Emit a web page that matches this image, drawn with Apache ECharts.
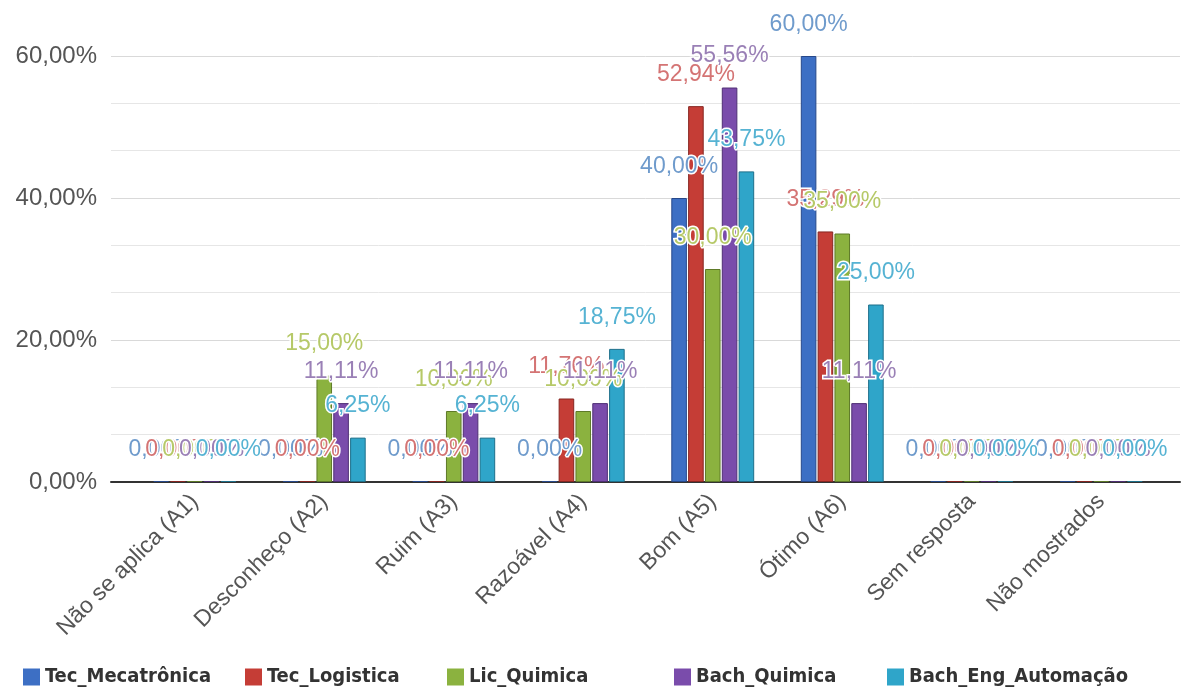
<!DOCTYPE html>
<html>
<head>
<meta charset="utf-8">
<script src="https://cdn.jsdelivr.net/npm/echarts@6/dist/echarts.min.js"></script>
<style>html,body{margin:0;padding:0;background:#fff;}#c{width:1183px;height:690px;}</style>
</head>
<body>
<div id="c"></div>
<script>
const categories = ['Não se aplica (A1)','Desconheço (A2)','Ruim (A3)','Razoável (A4)','Bom (A5)','Ótimo (A6)','Sem resposta','Não mostrados'];
const seriesNames = ['Tec_Mecatrônica','Tec_Logistica','Lic_Quimica','Bach_Quimica','Bach_Eng_Automação'];
const tecMecatronica = [0, 0, 0, 0, 40.00, 60.00, 0, 0];
const tecLogistica = [0, 0, 0, 11.76, 52.94, 35.29, 0, 0];
const licQuimica = [0, 15.00, 10.00, 10.00, 30.00, 35.00, 0, 0];
const bachQuimica = [0, 11.11, 11.11, 11.11, 55.56, 11.11, 0, 0];
const bachEngAutomacao = [0, 6.25, 6.25, 18.75, 43.75, 25.00, 0, 0];
const yTicks = [0, 20, 40, 60];

const barColors = ['#3d6fc4','#c53d36','#8bb23f','#7a4cab','#2fa5c9'];
const borderColors = ['#27488a','#862621','#5e7a28','#4f2f74','#1d6f8a'];
const labelColors = ['#6f9bcc','#d47474','#b6c968','#9a80b6','#56b3d3'];
const values = [tecMecatronica, tecLogistica, licQuimica, bachQuimica, bachEngAutomacao];
const legendLefts = [18, 240, 442, 669, 882];

const fmt = v => Number(v).toFixed(2).replace('.', ',') + '%';

const chart = echarts.init(document.getElementById('c'), null, {renderer: 'canvas'});
const series = seriesNames.map((name, i) => ({
  name: name,
  type: 'bar',
  xAxisIndex: 1,
  yAxisIndex: 1,
  data: values[i],
  barGap: '8%',
  barCategoryGap: '36%',
  barMinHeight: 1,
  itemStyle: {color: barColors[i], borderColor: borderColors[i], borderWidth: 1},
  label: {
    show: true,
    position: 'top',
    distance: 20,
    formatter: p => fmt(p.value),
    color: labelColors[i],
    fontSize: 23,
    fontFamily: 'Liberation Sans',
    textBorderColor: '#fff',
    textBorderWidth: 3
  }
}));

const legends = seriesNames.map((name, i) => ({
  data: [name],
  left: legendLefts[i],
  top: 662,
  icon: 'rect',
  itemWidth: 17,
  itemHeight: 17,
  itemStyle: {borderWidth: 0},
  textStyle: {fontSize: 20, fontWeight: 'bold', color: '#333', fontFamily: 'DejaVu Sans Condensed'}
}));

chart.setOption({
  animation: false,
  backgroundColor: '#fff',
  grid: [
    {left: 111, right: 3, top: 56, bottom: 208},
    {left: 130, right: 17, top: 56, bottom: 208}
  ],
  xAxis: [
    {gridIndex: 0, type: 'value', min: 0, max: 1, axisLabel: {show: false}, axisTick: {show: false}, splitLine: {show: false},
     axisLine: {show: true, onZero: false, lineStyle: {color: '#333', width: 2}}},
    {gridIndex: 1, type: 'category', data: categories, axisLine: {show: false}, axisTick: {show: false},
     axisLabel: {rotate: 45, interval: 0, margin: 16, fontSize: 23, color: '#555', fontFamily: 'Liberation Sans'}}
  ],
  yAxis: [
    {gridIndex: 0, type: 'value', min: yTicks[0], max: yTicks[yTicks.length - 1], interval: 20,
     axisLine: {show: false}, axisTick: {show: false},
     axisLabel: {formatter: v => fmt(v), fontSize: 24, color: '#555', margin: 14, fontFamily: 'Liberation Sans'},
     splitLine: {show: true, lineStyle: {color: '#d9d9d9', width: 1}},
     minorTick: {show: false, splitNumber: 3},
     minorSplitLine: {show: true, lineStyle: {color: '#e6e6e6', width: 1}}},
    {gridIndex: 1, type: 'value', min: yTicks[0], max: yTicks[yTicks.length - 1], interval: 20, show: false, splitLine: {show: false}}
  ],
  legend: legends,
  series: series
});
</script>
</body>
</html>
